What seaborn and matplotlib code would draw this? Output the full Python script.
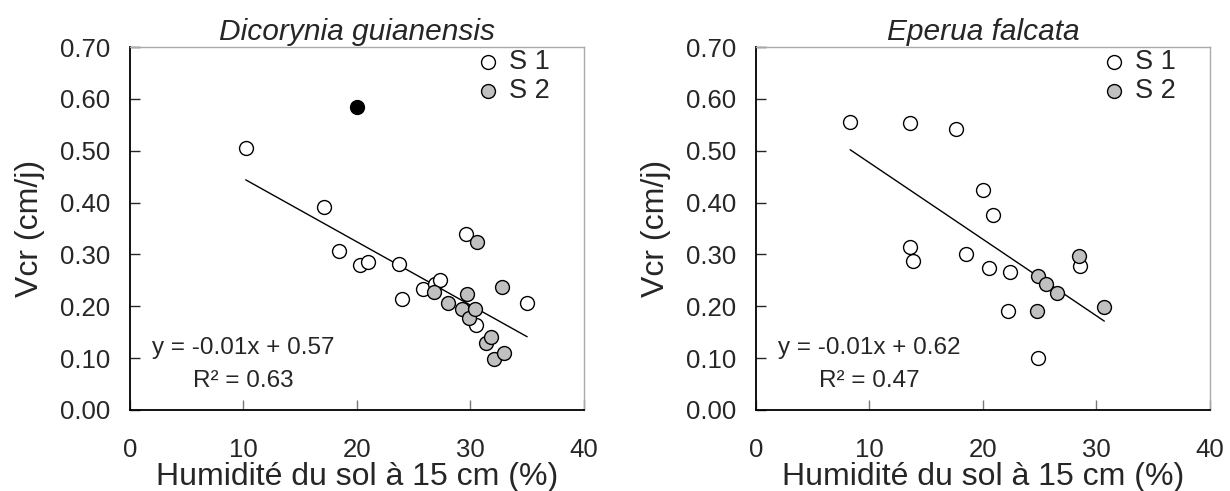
import numpy as np
import pandas as pd
import matplotlib
matplotlib.use("Agg")
import matplotlib.pyplot as plt
import seaborn as sns

# values
# Dicorynia guianensis
dg_s1_x = [10.2, 17.1, 18.4, 20.3, 21.0, 23.7, 24.0, 25.8, 26.9, 27.3, 29.6, 30.5, 35.0]
dg_s1_y = [0.505, 0.391, 0.306, 0.279, 0.285, 0.281, 0.215, 0.234, 0.244, 0.251, 0.340, 0.164, 0.207]
dg_s2_x = [26.8, 28.0, 29.3, 29.7, 29.9, 30.4, 30.6, 31.4, 31.8, 32.1, 32.8, 33.0]
dg_s2_y = [0.227, 0.207, 0.194, 0.223, 0.178, 0.194, 0.325, 0.130, 0.140, 0.099, 0.238, 0.109]
dg_out_x = [20.0]
dg_out_y = [0.584]

# Eperua falcata
ef_s1_x = [8.3, 13.6, 17.6, 20.0, 20.9, 13.6, 13.8, 18.5, 20.5, 22.4, 22.2, 24.9, 28.6]
ef_s1_y = [0.556, 0.554, 0.543, 0.424, 0.376, 0.315, 0.287, 0.300, 0.274, 0.267, 0.190, 0.101, 0.277]
ef_s2_x = [24.9, 25.6, 26.5, 24.8, 28.5, 30.7]
ef_s2_y = [0.259, 0.243, 0.225, 0.190, 0.297, 0.198]

titles = ["Dicorynia guianensis", "Eperua falcata"]
equations = ["y = -0.01x + 0.57", "y = -0.01x + 0.62"]
r2_labels = ["R² = 0.63", "R² = 0.47"]
x_ticks = [0, 10, 20, 30, 40]
y_ticks = [0.0, 0.1, 0.2, 0.3, 0.4, 0.5, 0.6, 0.7]

sns.set_style("white")
plt.rcParams["font.family"] = ["Liberation Sans", "DejaVu Sans"]

fig = plt.figure(figsize=(12.3, 4.91), dpi=100)
ax1 = fig.add_axes([0.1057, 0.165, 0.369, 0.739])
ax2 = fig.add_axes([0.6146, 0.165, 0.369, 0.739])

panels = [
    (ax1, dg_s1_x, dg_s1_y, dg_s2_x, dg_s2_y, dg_out_x, dg_out_y),
    (ax2, ef_s1_x, ef_s1_y, ef_s2_x, ef_s2_y, [], []),
]

for i, (ax, s1x, s1y, s2x, s2y, ox, oy) in enumerate(panels):
    # regression on S1 + S2 (the black outlier is left out)
    df = pd.DataFrame({"x": s1x + s2x, "y": s1y + s2y})
    sns.regplot(x="x", y="y", data=df, ax=ax, scatter=False, ci=None, truncate=True,
                line_kws={"color": "black", "lw": 1.0, "zorder": 2})

    sns.scatterplot(x=s1x, y=s1y, ax=ax, color="white", edgecolor="black", linewidth=1.0,
                    s=100, label="S 1", zorder=3)
    sns.scatterplot(x=s2x, y=s2y, ax=ax, color="#c0c0c0", edgecolor="black", linewidth=1.0,
                    s=100, label="S 2", zorder=3)
    if ox:
        ax.scatter(ox, oy, color="black", edgecolor="black", s=100, zorder=3)

    ax.set_xlim(0, 40)
    ax.set_ylim(0, 0.70)
    ax.set_xticks(x_ticks)
    ax.set_yticks(y_ticks)
    ax.set_yticklabels([f"{v:.2f}" for v in y_ticks])
    ax.tick_params(axis="y", direction="in", length=7, width=1, pad=14, labelsize=18.5, left=True)
    ax.tick_params(axis="x", direction="in", length=7, width=1, pad=20, labelsize=18.5,
                   bottom=True, color="#777777")

    for side in ["left", "bottom"]:
        ax.spines[side].set_color("black")
        ax.spines[side].set_linewidth(1.3)
    for side in ["top", "right"]:
        ax.spines[side].set_color("#aaaaaa")
        ax.spines[side].set_linewidth(1.0)

    ax.set_title(titles[i], fontsize=21.5, style="italic", pad=5)
    ax.set_xlabel("Humidité du sol à 15 cm (%)", fontsize=23, labelpad=0)
    ax.set_ylabel("Vcr (cm/j)", fontsize=23, labelpad=11)

    ax.text(10, 0.12, equations[i], ha="center", va="center", fontsize=17.5)
    ax.text(10, 0.055, r2_labels[i], ha="center", va="center", fontsize=17.5)

    ax.legend(loc="upper left", frameon=False, fontsize=19.5, handletextpad=0.3,
              handlelength=1.0, labelspacing=0.1, borderpad=0, borderaxespad=0,
              bbox_to_anchor=(0.758, 0.995), markerscale=1.0)

fig.savefig("out.png", dpi=100)
